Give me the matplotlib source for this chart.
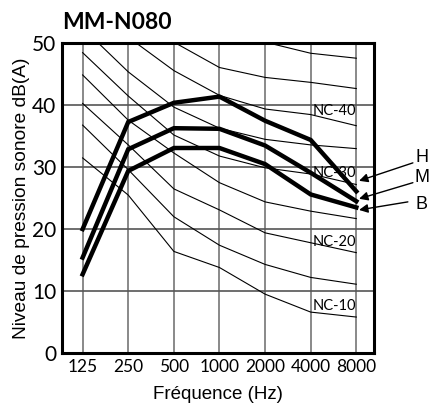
import matplotlib
matplotlib.use("Agg")
import matplotlib.pyplot as plt

freqs = ["125", "250", "500", "1000", "2000", "4000", "8000"]
y_ticks = [0, 10, 20, 30, 40, 50]

# thick curves (fan speed H / M / B)
h_level = [20.0, 37.3, 40.4, 41.4, 37.5, 34.4, 26.1]
m_level = [15.4, 32.9, 36.3, 36.2, 33.5, 29.1, 24.5]
b_level = [12.7, 29.4, 33.1, 33.1, 30.5, 25.6, 23.5]
speed_names = ["H", "M", "B"]

# NC reference curves (points above 50 are cut by the frame)
nc10 = [31.5, 25.5, 16.4, 13.8, 9.5, 6.6, 5.8]
nc15 = [36.8, 29.6, 22.0, 17.4, 14.3, 12.2, 11.1]
nc20 = [40.3, 33.6, 26.5, 23.1, 19.4, 17.8, 16.2]
nc25 = [44.9, 37.6, 32.3, 27.5, 24.4, 22.9, 21.7]
nc30 = [48.5, 41.5, 35.2, 31.8, 29.9, 28.9, 27.2]
nc35 = [52.5, 45.4, 39.7, 36.3, 34.5, 33.6, 33.0]
nc40 = [57.0, 51.0, 45.6, 41.6, 39.4, 38.5, 36.7]
nc45 = [61.0, 55.0, 50.2, 46.1, 44.5, 43.7, 42.7]
nc50 = [65.0, 59.0, 55.0, 52.0, 50.2, 48.4, 47.6]
nc_labels = ["NC-40", "NC-30", "NC-20", "NC-10"]
nc_label_y = [39.0, 29.1, 17.9, 7.6]

x = list(range(len(freqs)))

fig = plt.figure(figsize=(4.31, 4.09), dpi=100)
ax = fig.add_axes([0.143, 0.137, 0.725, 0.757])

for v in x:
    ax.axvline(v, color="#808080", lw=1.3, zorder=1)
for t in y_ticks[1:-1]:
    ax.axhline(t, color="#555555", lw=1.2, zorder=1)

for nc in [nc10, nc15, nc20, nc25, nc30, nc35, nc40, nc45, nc50]:
    ax.plot(x, nc, color="black", lw=0.8, zorder=2)

for lvl in [h_level, m_level, b_level]:
    ax.plot(x, lvl, color="black", lw=3.2, solid_joinstyle="miter", zorder=3)

for lab, yy in zip(nc_labels, nc_label_y):
    ax.text(5.52, yy, lab, fontsize=10.5, family="Lato", ha="center", va="center", zorder=4)

# arrows pointing at the end of each curve: (tip dy, tail x, tail dy, label dy)
offsets = [(1.7, 7.24, 4.6, 5.4), (0.4, 7.24, 3.0, 3.8), (-0.4, 7.13, 0.9, 0.5)]
for name, lvl, (dy_tip, tail_x, dy_tail, dy_lab) in zip(speed_names, [h_level, m_level, b_level], offsets):
    tip = (6.06, lvl[-1] + dy_tip)
    tail = (tail_x, lvl[-1] + dy_tail)
    ax.annotate("", xy=tip, xytext=tail, annotation_clip=False,
                arrowprops=dict(arrowstyle="-|>", color="black", lw=1.0, mutation_scale=13,
                                shrinkA=0, shrinkB=0))
    ax.text(7.43, lvl[-1] + dy_lab, name, fontsize=13, family="Liberation Sans",
            ha="center", va="center", clip_on=False)

ax.set_xlim(-0.46, 6.39)
ax.set_ylim(0, 50)
ax.set_xticks(x)
ax.set_xticklabels(freqs, family="Lato", fontsize=12.5)
ax.set_yticks(y_ticks)
ax.set_yticklabels([str(t) for t in y_ticks], family="Lato", fontsize=15)
ax.tick_params(length=0, pad=4)
for s in ax.spines.values():
    s.set_linewidth(2.2)

ax.set_xlabel("Fréquence (Hz)", family="Liberation Sans", fontsize=13.5, labelpad=8)
ax.set_ylabel("Niveau de pression sonore dB(A)", family="Liberation Sans", fontsize=13.8, labelpad=1)
ax.set_title("MM-N080", family="Lato", fontweight="bold", fontsize=16.5, loc="left", pad=10)

fig.savefig("out.png", dpi=100)
